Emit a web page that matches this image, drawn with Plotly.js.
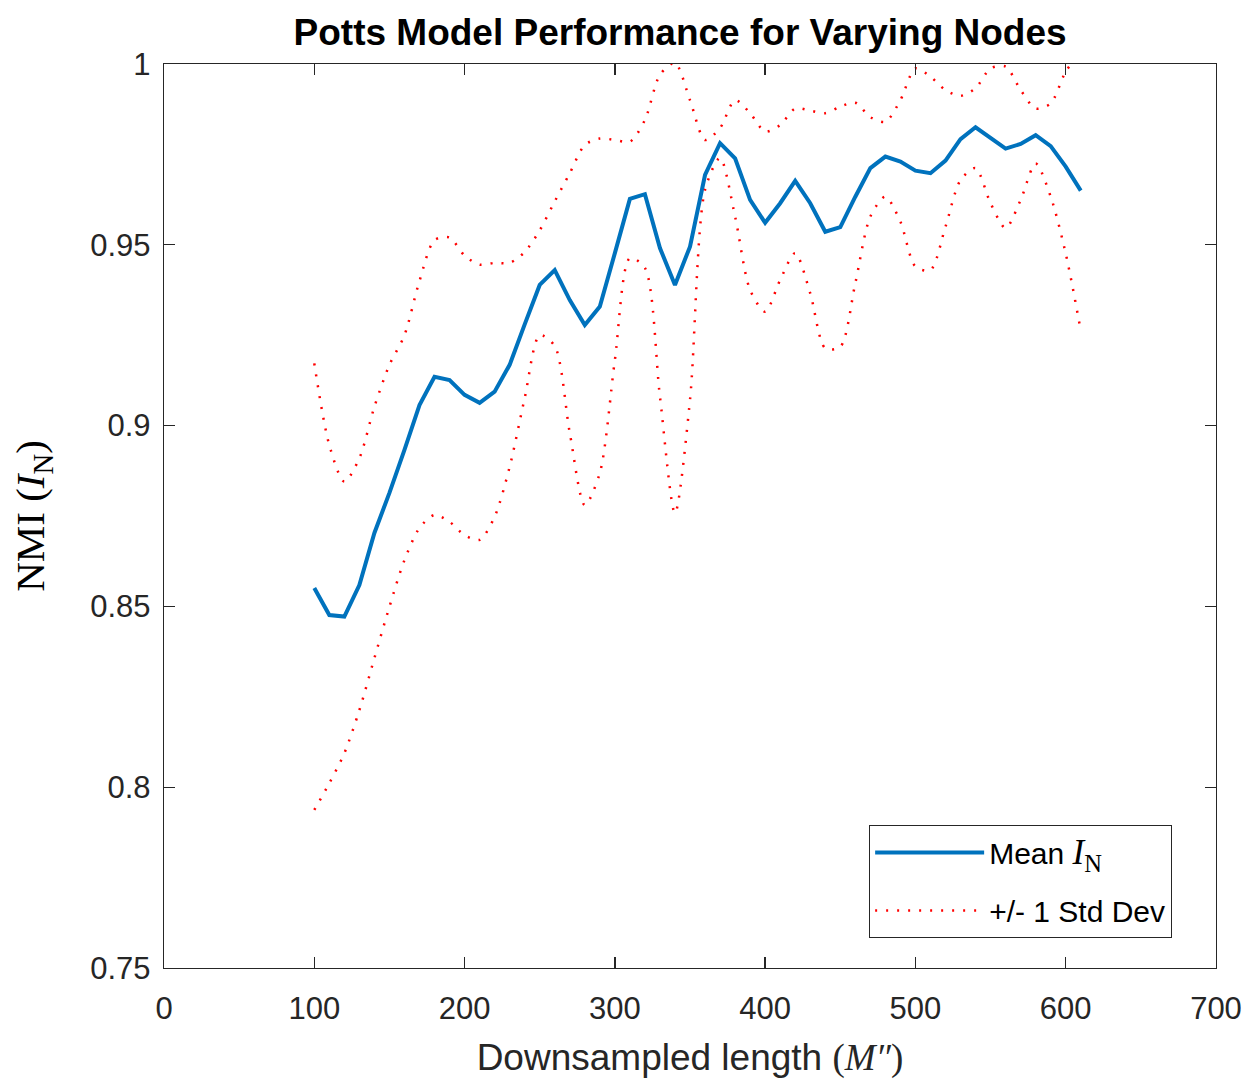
<!DOCTYPE html>
<html>
<head>
<meta charset="utf-8">
<script src="https://cdn.plot.ly/plotly-3.0.1.min.js"></script>
<style>body{margin:0;background:#fff}#plot{width:1249px;height:1080px}</style>
</head>
<body>
<div id="plot"></div>
<script>
const xVals = [100,110,120,130,140,150,160,170,180,190,200,210,220,230,240,250,260,270,280,290,300,310,320,330,340,350,360,370,380,390,400,410,420,430,440,450,460,470,480,490,500,510,520,530,540,550,560,570,580,590,600,610];
const meanNMI = [0.8551,0.8476,0.8472,0.8559,0.8703,0.8814,0.8933,0.9057,0.9135,0.9126,0.9085,0.9063,0.9094,0.9168,0.9280,0.9389,0.9430,0.9347,0.9278,0.9329,0.9477,0.9627,0.9640,0.9491,0.9389,0.9495,0.9693,0.9781,0.9739,0.9624,0.9561,0.9615,0.9677,0.9615,0.9536,0.9549,0.9633,0.9712,0.9744,0.9730,0.9705,0.9698,0.9733,0.9792,0.9825,0.9794,0.9766,0.9779,0.9803,0.9773,0.9716,0.9650];
const upperStd = [0.9172,0.8946,0.8845,0.8910,0.9052,0.9168,0.9250,0.9400,0.9513,0.9520,0.9470,0.9445,0.9450,0.9450,0.9480,0.9540,0.9620,0.9698,0.9776,0.9794,0.9790,0.9785,0.9845,0.9970,1.0003,0.9900,0.9790,0.9823,0.9900,0.9864,0.9813,0.9831,0.9877,0.9871,0.9864,0.9882,0.9893,0.9853,0.9840,0.9900,0.9988,0.9965,0.9928,0.9912,0.9933,0.9988,0.9993,0.9928,0.9877,0.9891,0.9979,1.0030];
const lowerStd = [0.7937,0.8011,0.8094,0.8213,0.8357,0.8499,0.8628,0.8717,0.8753,0.8734,0.8697,0.8684,0.8748,0.8886,0.9076,0.9250,0.9220,0.8980,0.8780,0.8869,0.9181,0.9463,0.9436,0.9080,0.8758,0.9071,0.9652,0.9740,0.9578,0.9375,0.9315,0.9403,0.9477,0.9366,0.9214,0.9218,0.9394,0.9578,0.9633,0.9564,0.9440,0.9430,0.9550,0.9679,0.9712,0.9615,0.9546,0.9624,0.9725,0.9633,0.9476,0.9263];
const xTicks = [0,100,200,300,400,500,600,700];
const yTicks = [0.75,0.8,0.85,0.9,0.95,1];
const yTickText = ['0.75','0.8','0.85','0.9','0.95','1'];

const SANS = 'Liberation Sans, Arial, sans-serif';
const SERIF = 'Liberation Serif, Times New Roman, serif';

const traces = [
  {x:xVals, y:meanNMI, type:'scatter', mode:'lines', name:'Mean <span style="font-family:Liberation Serif;font-size:35px"><i>I</i><sub>N</sub></span>',
   line:{color:'#0072BD', width:4}, legendgroup:'a'},
  {x:xVals, y:upperStd, type:'scatter', mode:'lines', name:'+/- 1 Std Dev',
   line:{color:'#FF0000', width:2.5, dash:'2px,9px', shape:'spline', smoothing:0.8}, legendgroup:'b'},
  {x:xVals, y:lowerStd, type:'scatter', mode:'lines', name:'lower', showlegend:false,
   line:{color:'#FF0000', width:2.5, dash:'2px,9px', shape:'spline', smoothing:0.8}, legendgroup:'b'}
];

const axCommon = {showgrid:false, zeroline:false, showline:true, mirror:'ticks', linecolor:'#262626', linewidth:1.3,
  ticks:'inside', ticklen:11, tickwidth:1.3, tickcolor:'#262626', tickfont:{family:SANS, size:31, color:'#262626'}};

const layout = {
  width:1249, height:1080,
  margin:{l:164, r:33, t:64, b:112},
  paper_bgcolor:'#fff', plot_bgcolor:'#fff',
  title:{text:'<b>Potts Model Performance for Varying Nodes</b>', font:{family:SANS, size:37, color:'#000'}, x:0.5445, xanchor:'center', y:0.970, yanchor:'middle'},
  xaxis:Object.assign({}, axCommon, {range:[0,700], tickvals:xTicks, ticktext:xTicks.map(String), ticklabelstandoff:12,
    title:{text:'Downsampled length <span style="font-family:Liberation Serif">(<i>M″</i>)</span>', font:{family:SANS, size:37, color:'#262626'}, standoff:19}}),
  yaxis:Object.assign({}, axCommon, {range:[0.75,1], tickvals:yTicks, ticktext:yTickText, ticklabelstandoff:6,
    title:{text:'NMI (<i>I</i><sub>N</sub>)', font:{family:SERIF, size:41, color:'#000'}, standoff:32}}),
  showlegend:true,
  legend:{x:0.670, y:0.158, xanchor:'left', yanchor:'top', bgcolor:'#fff', bordercolor:'#262626', borderwidth:1.3,
    font:{family:SANS, size:30, color:'#000'}, tracegroupgap:16, itemwidth:109},
};

Plotly.newPlot('plot', traces, layout, {displayModeBar:false, staticPlot:true});
</script>
</body>
</html>
